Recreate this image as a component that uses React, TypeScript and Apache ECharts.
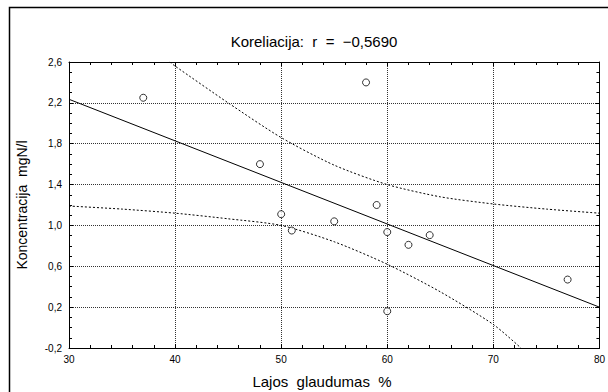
import React, { useEffect, useRef } from "react";
import * as echarts from "echarts";

const titleText = "Koreliacija:  r  =  \u22120,5690";
const xName = "Lajos  glaudumas  %";
const yName = "Koncentracija  mgN/l";

const pointsX = [37, 48, 50, 51, 55, 58, 59, 60, 60, 62, 64, 77];
const pointsY = [2.25, 1.6, 1.11, 0.95, 1.04, 2.4, 1.2, 0.935, 0.16, 0.81, 0.905, 0.47];

const fitX = [30, 80];
const fitY = [2.235, 0.2];

const upperX = [39.5, 40, 45, 50, 55, 60, 65, 70, 75, 80];
const upperY = [2.6, 2.56, 2.2, 1.86, 1.59, 1.4, 1.28, 1.21, 1.16, 1.12];

const lowerX = [30, 35, 40, 45, 50, 55, 60, 65, 70, 72.6];
const lowerY = [1.19, 1.16, 1.12, 1.065, 1.0, 0.84, 0.62, 0.35, 0.03, -0.2];

const xMin = 30, xMax = 80, xInterval = 10;
const yMin = -0.2, yMax = 2.6, yInterval = 0.4;

const FONT = "'Liberation Sans', Arial, sans-serif";

export default function App() {
  const ref = useRef<HTMLDivElement>(null);
  useEffect(() => {
    if (!ref.current) return;
    const chart = echarts.init(ref.current, null, { renderer: "svg" });
    const zip = (xs: number[], ys: number[]) => xs.map((x, i) => [x, ys[i]]);
    const tickStyle = {
      axisLine: { show: true, onZero: false, lineStyle: { color: "#000", width: 1 } },
      axisTick: { show: true, inside: true, length: 4, lineStyle: { color: "#000" } },
    };
    const yFmt = (v: number) => (Math.round(v * 10) / 10).toFixed(1).replace(".", ",");
    chart.setOption({
      animation: false,
      backgroundColor: "#fff",
      textStyle: { fontFamily: FONT },
      grid: { left: 69, top: 62, right: 8, bottom: 44 },
      xAxis: [
        {
          type: "value", min: xMin, max: xMax, interval: xInterval, position: "bottom",
          ...tickStyle,
          minorTick: { show: true, splitNumber: 5, length: 3, lineStyle: { color: "#000" } },
          axisLabel: { color: "#000", fontSize: 10, margin: 6, fontFamily: FONT },
          splitLine: { show: true, lineStyle: { color: "#333", type: "dotted", width: 1 } },
        },
        {
          type: "value", min: xMin, max: xMax, interval: xInterval, position: "top",
          ...tickStyle,
          minorTick: { show: true, splitNumber: 5, length: 3, lineStyle: { color: "#000" } },
          axisLabel: { show: false },
          splitLine: { show: false },
        },
      ],
      yAxis: [
        {
          type: "value", min: yMin, max: yMax, interval: yInterval, position: "left",
          ...tickStyle,
          minorTick: { show: true, splitNumber: 4, length: 3, lineStyle: { color: "#000" } },
          axisLabel: { color: "#000", fontSize: 10, margin: 7, fontFamily: FONT, formatter: yFmt },
          splitLine: { show: true, lineStyle: { color: "#333", type: "dotted", width: 1 } },
        },
        {
          type: "value", min: yMin, max: yMax, interval: yInterval, position: "right",
          ...tickStyle,
          minorTick: { show: true, splitNumber: 4, length: 3, lineStyle: { color: "#000" } },
          axisLabel: { show: false },
          splitLine: { show: false },
        },
      ],
      graphic: [
        {
          type: "rect",
          shape: { x: 9.5, y: 7.5, width: 700, height: 500 },
          style: { fill: "none", stroke: "#000", lineWidth: 1.5 },
          silent: true,
        },
        {
          type: "text", x: 314, y: 41,
          style: { text: titleText, font: `15px ${FONT}`, fill: "#000", textAlign: "center", textVerticalAlign: "middle" },
        },
        {
          type: "text", x: 322, y: 381,
          style: { text: xName, font: `15px ${FONT}`, fill: "#000", textAlign: "center", textVerticalAlign: "middle" },
        },
        {
          type: "text", x: 22, y: 205, rotation: Math.PI / 2,
          style: { text: yName, font: `14px ${FONT}`, fill: "#000", textAlign: "center", textVerticalAlign: "middle" },
        },
      ],
      series: [
        {
          type: "line", data: zip(fitX, fitY), symbol: "none",
          lineStyle: { color: "#000", width: 1 }, z: 3,
        },
        {
          type: "line", data: zip(upperX, upperY), symbol: "none", smooth: 0.25,
          lineStyle: { color: "#000", width: 1, type: [2, 2] }, z: 3,
        },
        {
          type: "line", data: zip(lowerX, lowerY), symbol: "none", smooth: 0.25,
          lineStyle: { color: "#000", width: 1, type: [2, 2] }, z: 3,
        },
        {
          type: "scatter", data: zip(pointsX, pointsY), symbol: "circle", symbolSize: 7,
          itemStyle: { color: "#fff", borderColor: "#000", borderWidth: 1 }, z: 5,
        },
      ],
    });
    return () => chart.dispose();
  }, []);
  return (
    <div
      ref={ref}
      style={{ position: "fixed", left: 0, top: 0, width: 608, height: 392, background: "#fff" }}
    />
  );
}
